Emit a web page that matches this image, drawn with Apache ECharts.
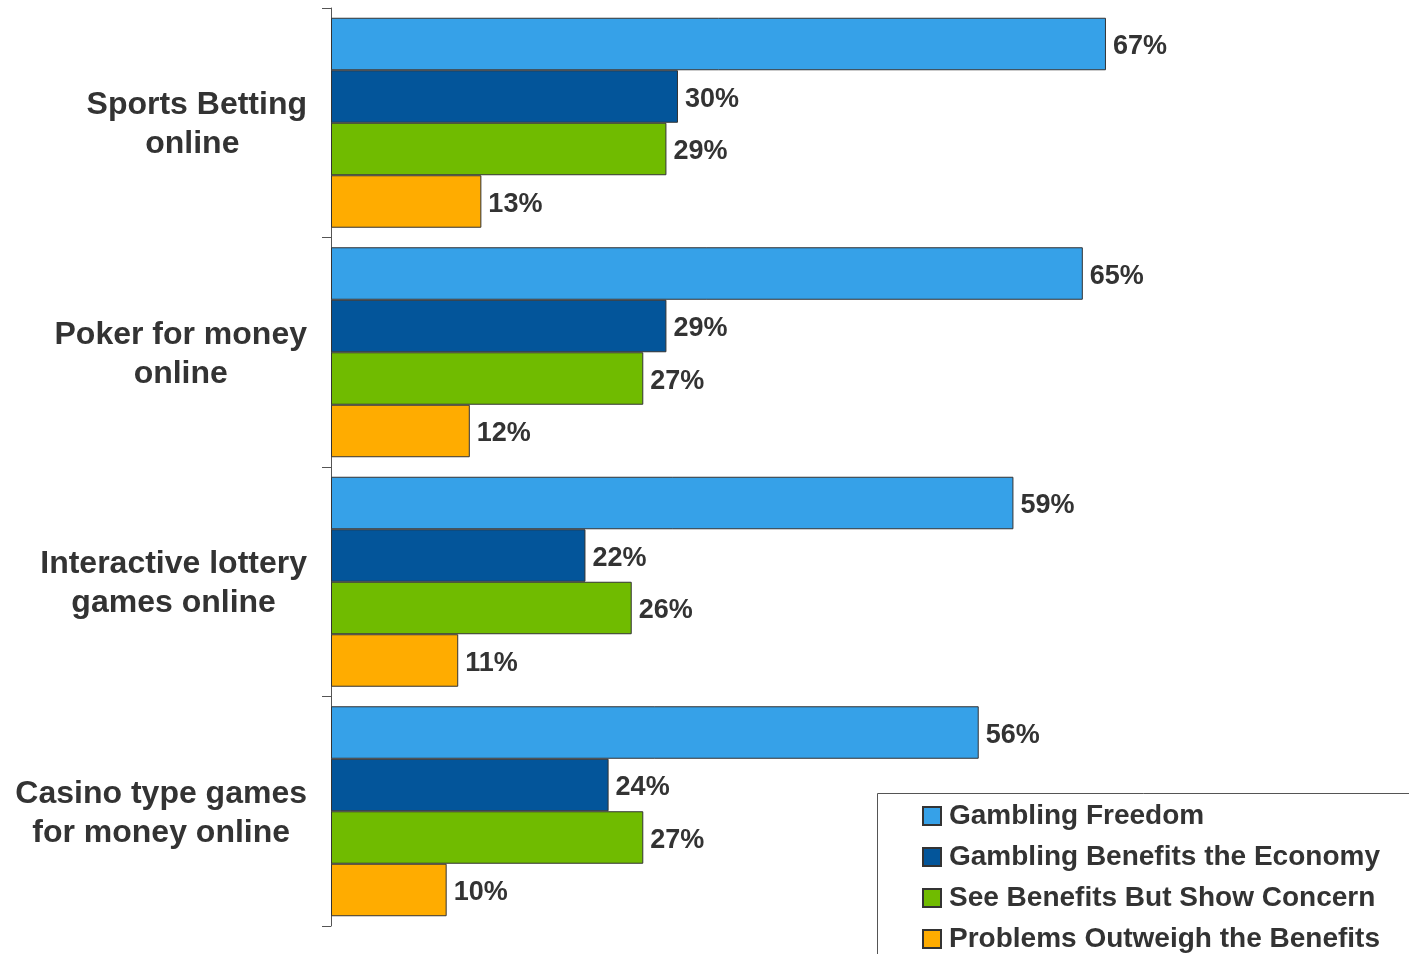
<!DOCTYPE html>
<html>
<head>
<meta charset="utf-8">
<script src="https://cdn.jsdelivr.net/npm/echarts@6/dist/echarts.min.js"></script>
<style>
  html, body { margin: 0; padding: 0; background: #fff; }
  #chart { width: 1409px; height: 954px; }
</style>
</head>
<body>
<div id="chart"></div>
<script>
// Attitudes toward online gambling activities (% of respondents)
const categories = [
  'Sports Betting\nonline ',
  'Poker for money\nonline',
  'Interactive lottery\ngames online',
  'Casino type games\nfor money online'
];
const seriesNames = [
  'Gambling Freedom',
  'Gambling Benefits the Economy',
  'See Benefits But Show Concern',
  'Problems Outweigh the Benefits'
];
const gamblingFreedom = [67, 65, 59, 56];
const benefitsEconomy = [30, 29, 22, 24];
const benefitsConcern = [29, 27, 26, 27];
const problemsOutweigh = [13, 12, 11, 10];
const seriesColors = ['#36A1E8', '#03559A', '#70BB00', '#FFAC00'];

const FONT = 'Arial, "Liberation Sans", sans-serif';
const TEXT = '#333333';
const LINE = '#555555';

const values = [gamblingFreedom, benefitsEconomy, benefitsConcern, problemsOutweigh];

const chart = echarts.init(document.getElementById('chart'), null, { renderer: 'canvas' });

chart.setOption({
  animation: false,
  backgroundColor: '#ffffff',
  textStyle: { fontFamily: FONT },
  grid: { left: 331, top: 8, bottom: 28, right: 0, containLabel: false },
  xAxis: {
    type: 'value',
    min: 0,
    max: 93.2,
    show: false
  },
  yAxis: {
    type: 'category',
    data: categories,
    inverse: true,
    axisLine: { show: true, lineStyle: { color: LINE, width: 1 } },
    axisTick: { show: true, length: 9, lineStyle: { color: LINE, width: 1 } },
    splitLine: { show: false },
    axisLabel: {
      margin: 24,
      align: 'right',
      padding: [4, 0, 0, 0],
      formatter: v => v.split('\n').map(l => '{c|' + l + '}').join('\n'),
      rich: {
        c: {
          align: 'center',
          fontFamily: FONT,
          fontSize: 32,
          fontWeight: 'bold',
          lineHeight: 39,
          color: TEXT
        }
      }
    }
  },
  // frame around the legend block, running off the right and bottom edges
  graphic: [{
    type: 'rect',
    left: 877,
    top: 793,
    z: 0,
    shape: { width: 700, height: 300 },
    style: { fill: '#ffffff', stroke: LINE, lineWidth: 1 }
  }],
  legend: {
    orient: 'vertical',
    left: 922,
    top: 802,
    padding: 0,
    itemGap: 13,
    itemWidth: 18,
    itemHeight: 18,
    icon: 'rect',
    z: 5,
    data: seriesNames,
    textStyle: {
      fontFamily: FONT,
      fontSize: 28,
      fontWeight: 'bold',
      color: TEXT,
      lineHeight: 28,
      padding: [0, 0, 0, 3]
    }
  },
  series: seriesNames.map((name, i) => ({
    name: name,
    type: 'bar',
    data: values[i],
    barGap: '0%',
    barCategoryGap: '8.5%',
    itemStyle: { color: seriesColors[i], borderColor: '#333333', borderWidth: 1 },
    label: {
      show: true,
      position: 'right',
      distance: 7,
      offset: [0, 3],
      formatter: '{c}%',
      fontFamily: FONT,
      fontSize: 27,
      fontWeight: 'bold',
      color: TEXT
    }
  }))
});
</script>
</body>
</html>
